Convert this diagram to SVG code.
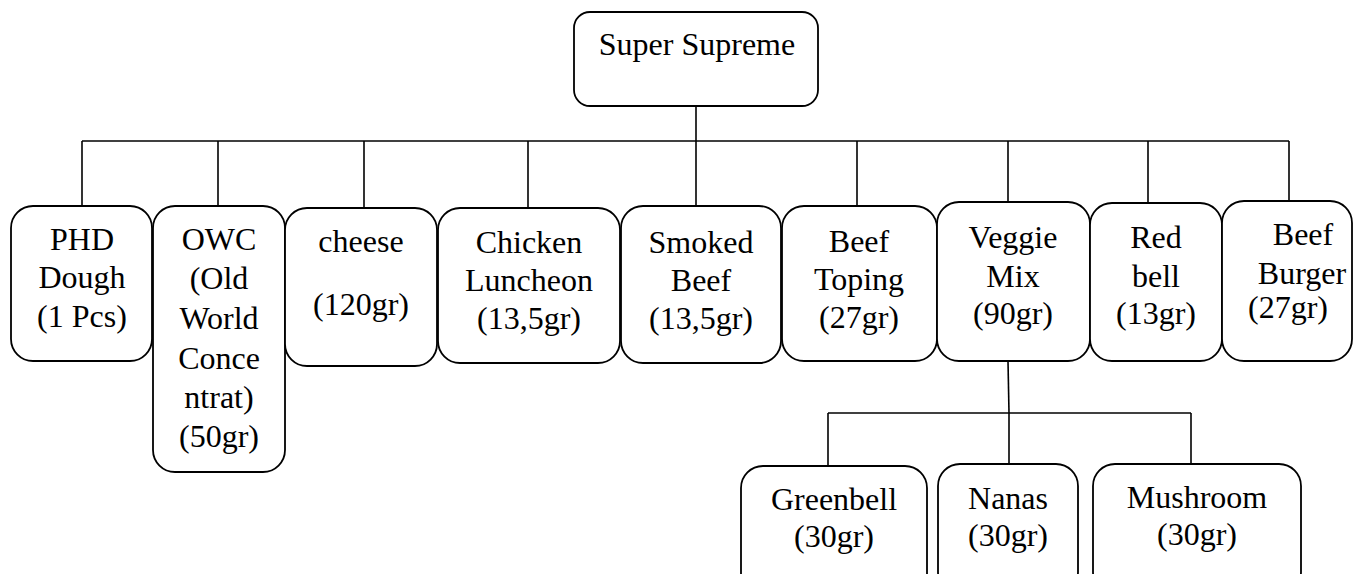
<svg xmlns="http://www.w3.org/2000/svg" width="1353" height="574" viewBox="0 0 1353 574">
<style>
.box{fill:#fff;stroke:#000;stroke-width:1.8}
.t{font-family:"Liberation Serif","Times New Roman",serif;font-size:32px;fill:#000;text-anchor:middle}
.c line,.c polyline{stroke:#000;stroke-width:1.6;fill:none}
</style>
<rect width="1353" height="574" fill="#fff"/>
<g class="c" id="connectors">
<line x1="696" y1="106" x2="696" y2="141"/>
<line x1="82" y1="141" x2="1289" y2="141"/>
<line x1="82" y1="141" x2="82" y2="206"/>
<line x1="218" y1="141" x2="218" y2="206"/>
<line x1="364" y1="141" x2="364" y2="208"/>
<line x1="528" y1="141" x2="528" y2="208"/>
<line x1="696" y1="141" x2="696" y2="206"/>
<line x1="857" y1="141" x2="857" y2="207"/>
<line x1="1008" y1="141" x2="1008" y2="202"/>
<line x1="1148" y1="141" x2="1148" y2="203"/>
<line x1="1289" y1="141" x2="1289" y2="201"/>
<line x1="1008" y1="361" x2="1009" y2="413"/>
<line x1="828" y1="413" x2="1191" y2="413"/>
<line x1="828" y1="413" x2="828" y2="466"/>
<line x1="1009" y1="413" x2="1009" y2="464"/>
<line x1="1191" y1="413" x2="1191" y2="464"/>
</g>
<g id="root"><rect class="box" x="574" y="12" width="244" height="94" rx="16"/><text class="t" x="697" y="55">Super Supreme</text></g>
<g id="phd"><rect class="box" x="11" y="206" width="141" height="155" rx="22"/><text class="t" x="82" y="250">PHD</text><text class="t" x="82" y="288">Dough</text><text class="t" x="82" y="327">(1 Pcs)</text></g>
<g id="owc"><rect class="box" x="153" y="206" width="132" height="266" rx="22"/><text class="t" x="219" y="250">OWC</text><text class="t" x="219" y="289">(Old</text><text class="t" x="219" y="329">World</text><text class="t" x="219" y="369">Conce</text><text class="t" x="219" y="408">ntrat)</text><text class="t" x="219" y="447">(50gr)</text></g>
<g id="cheese"><rect class="box" x="285" y="208" width="152" height="158" rx="22"/><text class="t" x="361" y="252">cheese</text><text class="t" x="361" y="315">(120gr)</text></g>
<g id="chicken"><rect class="box" x="438" y="208" width="182" height="155" rx="22"/><text class="t" x="529" y="253">Chicken</text><text class="t" x="529" y="291">Luncheon</text><text class="t" x="529" y="329">(13,5gr)</text></g>
<g id="smoked"><rect class="box" x="621" y="206" width="160" height="157" rx="22"/><text class="t" x="701" y="253">Smoked</text><text class="t" x="701" y="291">Beef</text><text class="t" x="701" y="329">(13,5gr)</text></g>
<g id="beeftoping"><rect class="box" x="782" y="206" width="155" height="155" rx="22"/><text class="t" x="859" y="252">Beef</text><text class="t" x="859" y="290">Toping</text><text class="t" x="859" y="328">(27gr)</text></g>
<g id="veggie"><rect class="box" x="937" y="202" width="153" height="159" rx="22"/><text class="t" x="1013" y="248">Veggie</text><text class="t" x="1013" y="287">Mix</text><text class="t" x="1013" y="324">(90gr)</text></g>
<g id="redbell"><rect class="box" x="1090" y="203" width="132" height="158" rx="22"/><text class="t" x="1156" y="248">Red</text><text class="t" x="1156" y="287">bell</text><text class="t" x="1156" y="324">(13gr)</text></g>
<g id="beefburger"><rect class="box" x="1222" y="201" width="130" height="160" rx="22"/><text class="t" x="1303" y="245">Beef</text><text class="t" x="1302" y="284">Burger</text><text class="t" x="1288" y="318">(27gr)</text></g>
<g id="greenbell"><rect class="box" x="741" y="466" width="186" height="130" rx="22"/><text class="t" x="834" y="510">Greenbell</text><text class="t" x="834" y="547">(30gr)</text></g>
<g id="nanas"><rect class="box" x="938" y="464" width="140" height="130" rx="22"/><text class="t" x="1008" y="509">Nanas</text><text class="t" x="1008" y="546">(30gr)</text></g>
<g id="mushroom"><rect class="box" x="1093" y="464" width="208" height="130" rx="22"/><text class="t" x="1197" y="508">Mushroom</text><text class="t" x="1197" y="545">(30gr)</text></g>
</svg>
